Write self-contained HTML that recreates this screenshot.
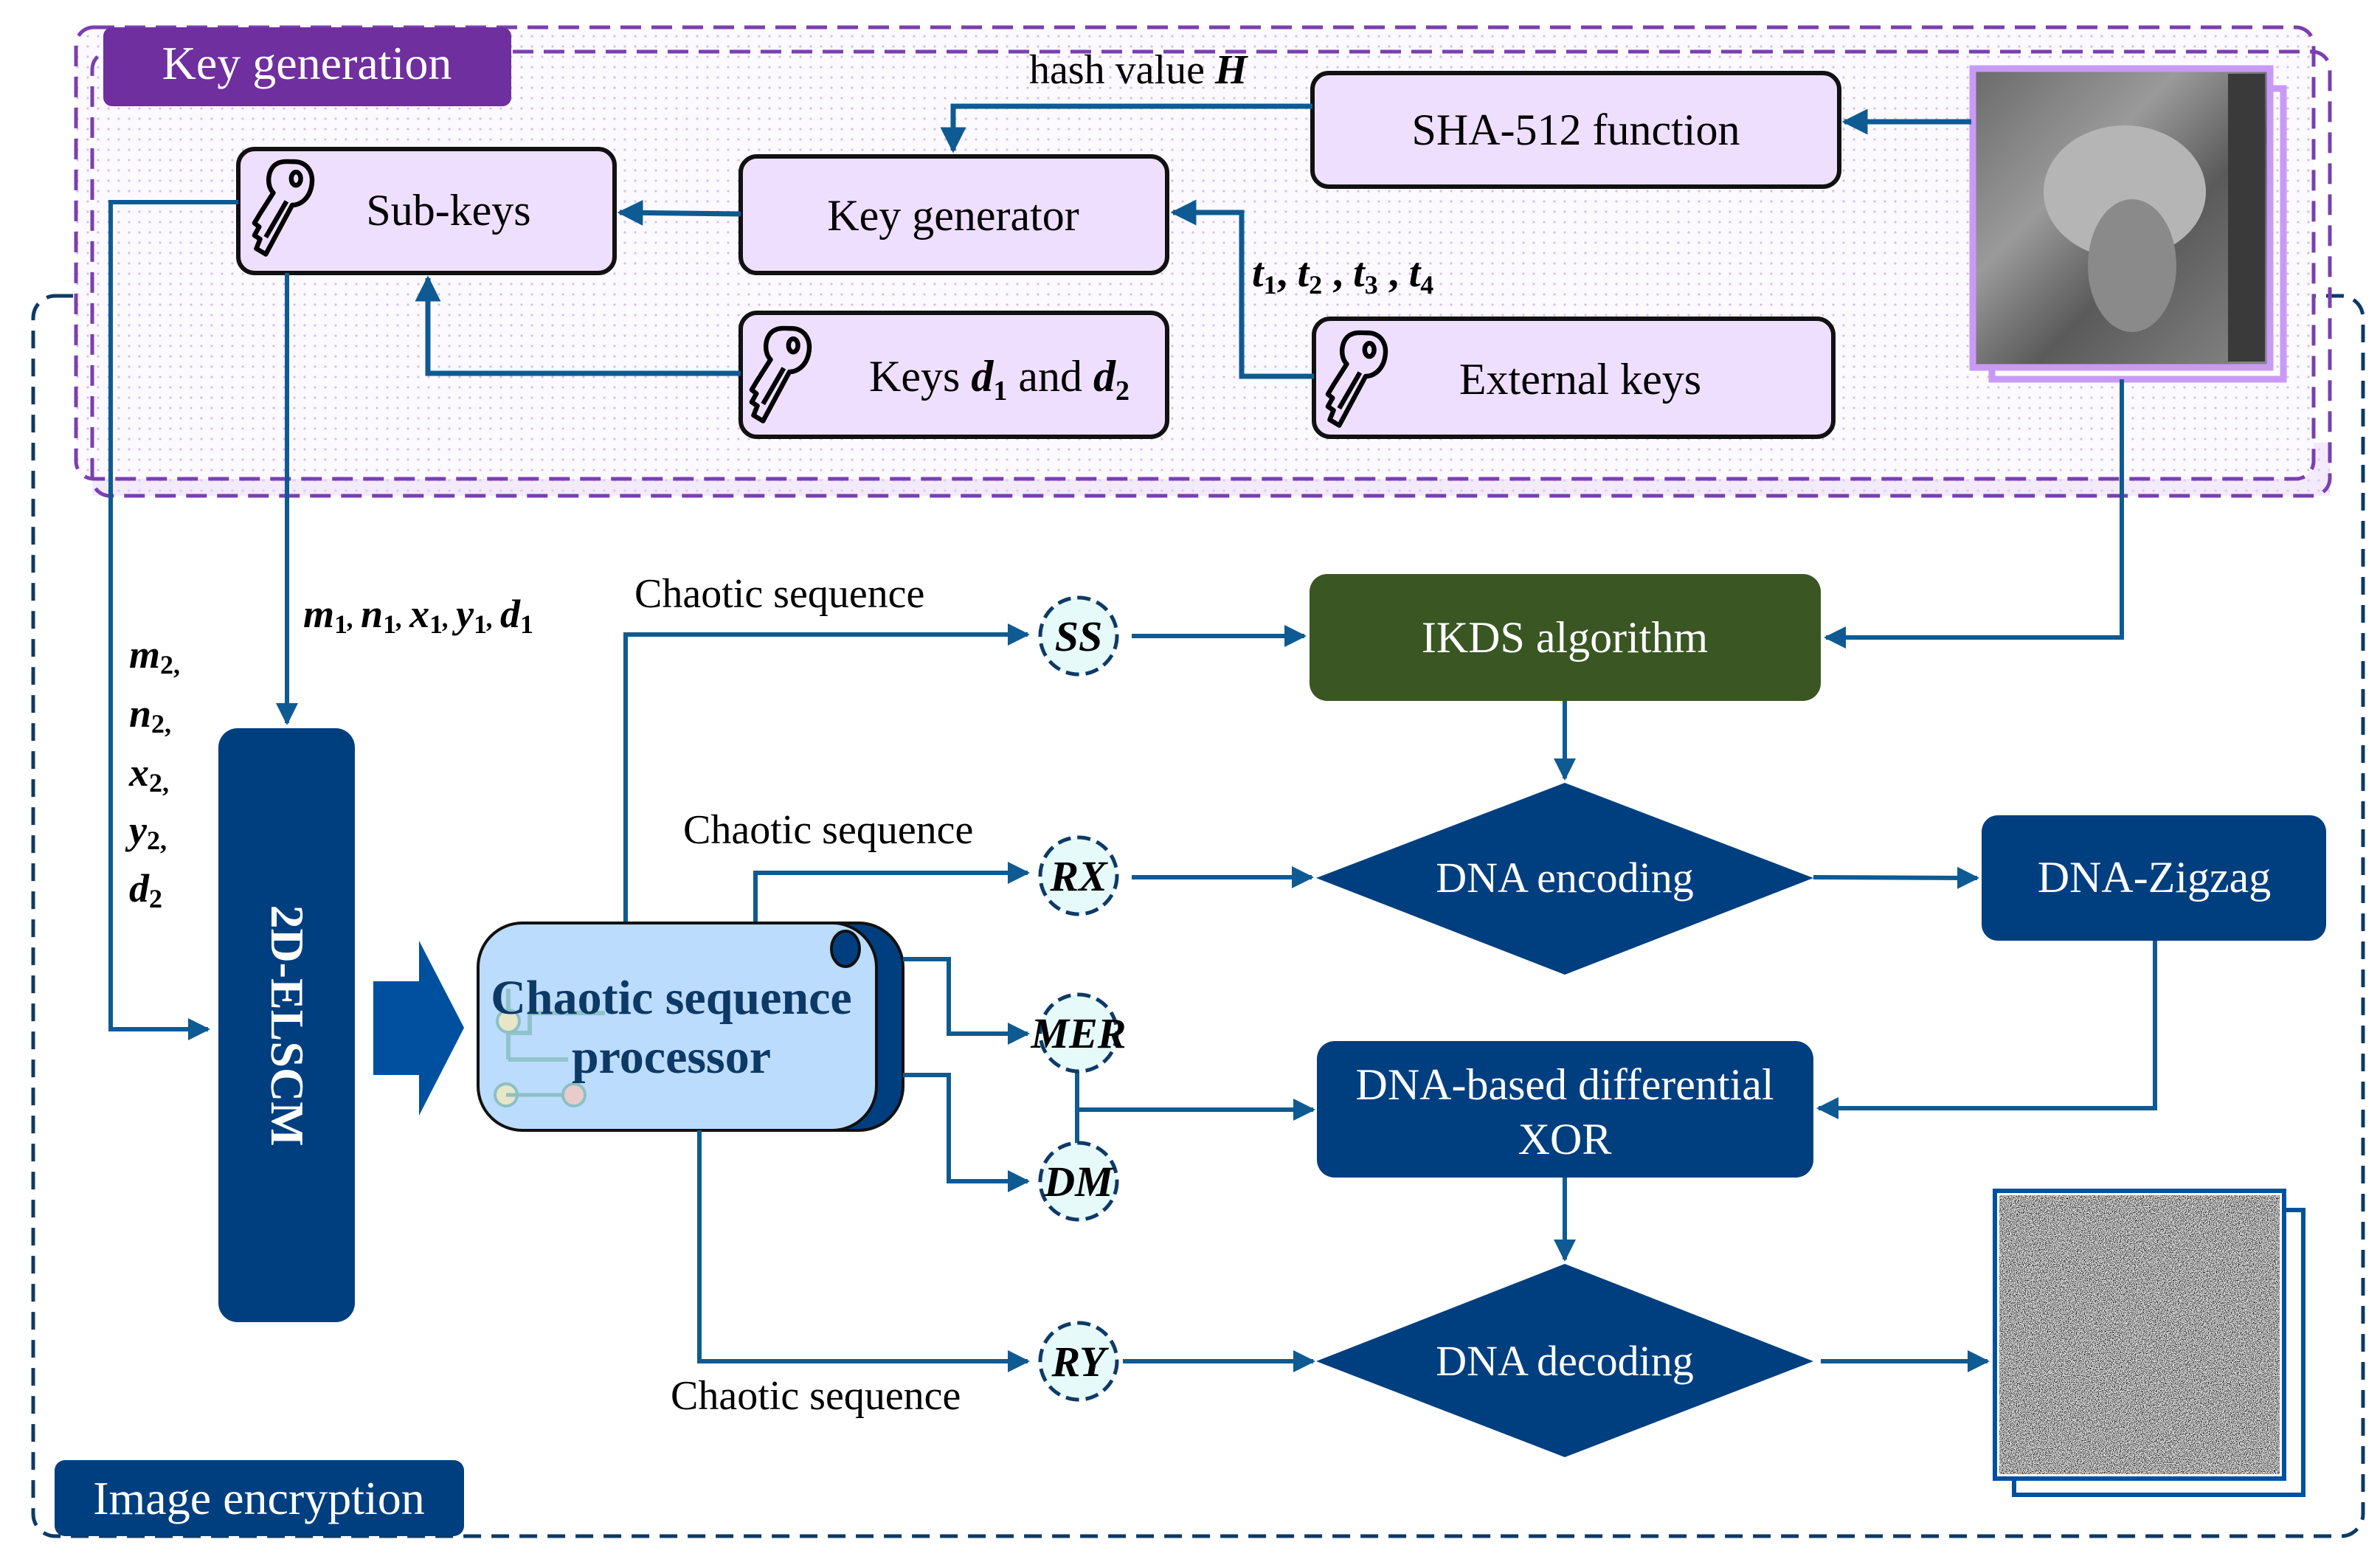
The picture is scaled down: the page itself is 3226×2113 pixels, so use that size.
<!DOCTYPE html>
<html><head><meta charset="utf-8"><style>
html,body{margin:0;padding:0;background:#fff;}
svg{display:block;}
text{font-family:"Liberation Serif",serif;}
</style></head><body>
<svg width="3226" height="2113" viewBox="0 0 3226 2113" xmlns="http://www.w3.org/2000/svg">
<defs>
<pattern id="dots" width="14" height="14" patternUnits="userSpaceOnUse">
<rect width="14" height="14" fill="#fdfaff"/><circle cx="7" cy="7" r="1.6" fill="#d6c0ea"/></pattern>
<pattern id="dots2" width="14" height="14" patternUnits="userSpaceOnUse">
<rect width="14" height="14" fill="#f3eafb"/><circle cx="7" cy="7" r="1.8" fill="#e0cfee"/></pattern>
<marker id="ah" viewBox="0 0 10 10" refX="9" refY="5" markerWidth="5" markerHeight="5" orient="auto" markerUnits="strokeWidth"><path d="M0,0 L10,5 L0,10 z" fill="#0e5a92"/></marker>
<filter id="noise" filterUnits="objectBoundingBox" x="0" y="0" width="1" height="1"><feTurbulence type="fractalNoise" baseFrequency="0.9" numOctaves="2" seed="3"/><feColorMatrix type="matrix" values="3.2 0 0 0 -1.15  3.2 0 0 0 -1.15  3.2 0 0 0 -1.15  0 0 0 0 1"/></filter>
<linearGradient id="lena" x1="0" y1="0" x2="1" y2="1"><stop offset="0" stop-color="#6a6a6a"/><stop offset="0.35" stop-color="#9a9a9a"/><stop offset="0.6" stop-color="#5a5a5a"/><stop offset="1" stop-color="#888"/></linearGradient>
<g id="key" fill="none" stroke="#000" stroke-width="5" stroke-linejoin="round" transform="scale(1.28)">
<path d="M38,4 c14,0 22,12 18,28 c-3,12 -12,18 -20,18 l-28,52 l-10,-6 l4,-10 l-6,-4 l5,-9 l-5,-4 l6,-10 l14,-22 c-8,-8 -6,-26 4,-31 c6,-3 12,-2 18,-2z"/>
<ellipse cx="40" cy="22" rx="5" ry="7"/>
<path d="M8,84 L30,46"/>
</g>
</defs>

<!-- Image encryption frame -->
<rect x="45" y="401" width="3158" height="1681" rx="30" fill="none" stroke="#0d3a66" stroke-width="5" stroke-dasharray="24,14"/>

<!-- Key generation frame -->
<rect x="125" y="600" width="3033" height="72" fill="url(#dots2)"/>
<rect x="103" y="37" width="3033" height="612" rx="24" fill="url(#dots)" stroke="#7a3fb0" stroke-width="5" stroke-dasharray="28,14"/>
<rect x="125" y="70" width="3033" height="602" rx="24" fill="none" stroke="#7a3fb0" stroke-width="5" stroke-dasharray="28,14"/>
<rect x="140" y="37" width="553" height="107" rx="12" fill="#6f2f9f"/>
<text x="416" y="107" font-size="64" fill="#fff" text-anchor="middle">Key generation</text>

<!-- Lena -->
<rect x="2700" y="120" width="395" height="394" fill="none" stroke="#c89af5" stroke-width="9"/>
<rect x="2674" y="93" width="403" height="405" fill="url(#lena)" stroke="#c89af5" stroke-width="9"/>
<ellipse cx="2880" cy="260" rx="110" ry="90" fill="#b5b5b5"/>
<ellipse cx="2890" cy="360" rx="60" ry="90" fill="#8a8a8a"/>
<rect x="3020" y="100" width="50" height="390" fill="#3a3a3a"/>

<!-- Key gen nodes -->
<g stroke="#111" stroke-width="6" fill="#efdfff">
<rect x="1779" y="99" width="714" height="154" rx="22"/>
<rect x="323" y="202" width="510" height="168" rx="22"/>
<rect x="1004" y="212" width="578" height="158" rx="22"/>
<rect x="1004" y="424" width="578" height="168" rx="22"/>
<rect x="1781" y="432" width="704" height="160" rx="22"/>
</g>
<text x="2136" y="196" font-size="60" text-anchor="middle">SHA-512 function</text>
<text x="608" y="305" font-size="60" text-anchor="middle">Sub-keys</text>
<text x="1292" y="312" font-size="60" text-anchor="middle">Key generator</text>
<text x="1178" y="530" font-size="60">Keys <tspan font-weight="bold" font-style="italic">d</tspan><tspan font-size="38" dy="12" font-weight="bold">1</tspan><tspan dy="-12"> and </tspan><tspan font-weight="bold" font-style="italic">d</tspan><tspan font-size="38" dy="12" font-weight="bold">2</tspan></text>
<text x="2142" y="534" font-size="60" text-anchor="middle">External keys</text>
<use href="#key" x="350" y="214"/>
<use href="#key" x="1024" y="440"/>
<use href="#key" x="1805" y="446"/>

<!-- Key gen connectors -->
<g fill="none" stroke="#0e5a92" stroke-width="7">
<path d="M2672,165 L2500,165" marker-end="url(#ah)"/>
<path d="M1779,144 L1292,144 L1292,204" marker-end="url(#ah)"/>
<path d="M1781,510 L1683,510 L1683,288 L1590,288" marker-end="url(#ah)"/>
<path d="M1004,290 L840,288" marker-end="url(#ah)"/>
<path d="M1004,506 L580,506 L580,377" marker-end="url(#ah)"/>
</g>
<g fill="none" stroke="#0e5a92" stroke-width="6">
<path d="M323,274 L150,274 L150,1395 L282,1395" marker-end="url(#ah)"/>
<path d="M389,370 L389,980" marker-end="url(#ah)"/>
<path d="M2876,514 L2876,864 L2475,864" marker-end="url(#ah)"/>
</g>
<text x="1395" y="113" font-size="56">hash value <tspan font-weight="bold" font-style="italic">H</tspan></text>
<text x="1697" y="388" font-size="56" font-weight="bold" font-style="italic">t<tspan font-size="36" dy="10" font-style="normal">1</tspan><tspan dy="-10" font-style="normal">, </tspan>t<tspan font-size="36" dy="10" font-style="normal">2</tspan><tspan dy="-10" font-style="normal"> , </tspan>t<tspan font-size="36" dy="10" font-style="normal">3</tspan><tspan dy="-10" font-style="normal"> , </tspan>t<tspan font-size="36" dy="10" font-style="normal">4</tspan></text>

<!-- labels -->
<text x="411" y="850" font-size="54" font-weight="bold" font-style="italic">m<tspan font-size="36" dy="8" font-style="normal">1</tspan><tspan dy="-8" font-size="36">, </tspan>n<tspan font-size="36" dy="8" font-style="normal">1</tspan><tspan dy="-8" font-size="36">, </tspan>x<tspan font-size="36" dy="8" font-style="normal">1</tspan><tspan dy="-8" font-size="36">, </tspan>y<tspan font-size="36" dy="8" font-style="normal">1</tspan><tspan dy="-8" font-size="36">, </tspan>d<tspan font-size="36" dy="8" font-style="normal">1</tspan></text>
<g font-size="54" font-weight="bold" font-style="italic">
<text x="175" y="905">m<tspan font-size="36" dy="8" font-style="normal">2,</tspan></text>
<text x="175" y="985">n<tspan font-size="36" dy="8" font-style="normal">2,</tspan></text>
<text x="175" y="1065">x<tspan font-size="36" dy="8" font-style="normal">2,</tspan></text>
<text x="175" y="1143">y<tspan font-size="36" dy="8" font-style="normal">2,</tspan></text>
<text x="175" y="1222">d<tspan font-size="36" dy="8" font-style="normal">2</tspan></text>
</g>

<!-- ELSCM -->
<rect x="296" y="987" width="185" height="805" rx="26" fill="#003f7f"/>
<text transform="translate(388,1390) rotate(90)" font-size="64" font-weight="bold" fill="#fff" text-anchor="middle" dy="20">2D-ELSCM</text>
<!-- big arrow -->
<path d="M506,1330 L568,1330 L568,1275 L629,1393 L568,1512 L568,1457 L506,1457 Z" fill="#0050a0"/>

<!-- processor -->
<rect x="700" y="1251" width="524" height="281" rx="60" fill="#003f7f" stroke="#111" stroke-width="4"/>
<rect x="648" y="1251" width="540" height="281" rx="60" fill="#bbdcfc" stroke="#111" stroke-width="4"/>
<ellipse cx="1146" cy="1286" rx="19" ry="24" fill="#003f7f" stroke="#111" stroke-width="4"/>
<g stroke="#8cc0c4" stroke-width="6" fill="none" opacity="0.9">
<path d="M689,1436 L689,1340 M689,1400 L718,1400 L718,1373 L820,1373 M689,1436 L770,1436"/>
</g>
<circle cx="689" cy="1384" r="15" fill="#e8e6c8" stroke="#8cc0c4" stroke-width="4"/>
<circle cx="686" cy="1484" r="15" fill="#e8e6c8" stroke="#8cc0c4" stroke-width="4"/>
<path d="M686,1484 L770,1484" stroke="#8cc0c4" stroke-width="5"/>
<circle cx="778" cy="1484" r="15" fill="#e8cccc" stroke="#8cc0c4" stroke-width="4"/>
<text x="910" y="1374" font-size="66" font-weight="bold" fill="#0d3966" text-anchor="middle">Chaotic sequence</text>
<text x="910" y="1454" font-size="66" font-weight="bold" fill="#0d3966" text-anchor="middle">processor</text>

<!-- processor connectors -->
<g fill="none" stroke="#0e5a92" stroke-width="6">
<path d="M848,1249 L848,860 L1393,860" marker-end="url(#ah)"/>
<path d="M1024,1249 L1024,1183 L1393,1183" marker-end="url(#ah)"/>
<path d="M1224,1300 L1286,1300 L1286,1401 L1393,1401" marker-end="url(#ah)"/>
<path d="M1224,1457 L1286,1457 L1286,1601 L1393,1601" marker-end="url(#ah)"/>
<path d="M948,1532 L948,1845 L1393,1845" marker-end="url(#ah)"/>
<path d="M1534,862 L1768,862" marker-end="url(#ah)"/>
<path d="M1534,1189 L1778,1189" marker-end="url(#ah)"/>
<path d="M1460,1442 L1460,1558 M1460,1504 L1780,1504" marker-end="url(#ah)"/>
<path d="M1522,1845 L1780,1845" marker-end="url(#ah)"/>
<path d="M2121,950 L2121,1055" marker-end="url(#ah)"/>
<path d="M2458,1189 L2680,1190" marker-end="url(#ah)"/>
<path d="M2921,1275 L2921,1502 L2465,1502" marker-end="url(#ah)"/>
<path d="M2121,1596 L2121,1707" marker-end="url(#ah)"/>
<path d="M2468,1845 L2694,1845" marker-end="url(#ah)"/>
</g>
<g font-size="56">
<text x="860" y="823">Chaotic sequence</text>
<text x="926" y="1143">Chaotic sequence</text>
<text x="909" y="1910">Chaotic sequence</text>
</g>

<!-- circles -->
<g fill="#e6fafa" stroke="#0d3a66" stroke-width="5" stroke-dasharray="18,9">
<circle cx="1462" cy="862" r="52"/>
<circle cx="1462" cy="1187" r="52"/>
<circle cx="1462" cy="1400" r="52"/>
<circle cx="1462" cy="1601" r="52"/>
<circle cx="1462" cy="1845" r="52"/>
</g>
<g font-size="58" font-weight="bold" font-style="italic" text-anchor="middle">
<text x="1462" y="882">SS</text>
<text x="1462" y="1207">RX</text>
<text x="1462" y="1420">MER</text>
<text x="1462" y="1621">DM</text>
<text x="1462" y="1865">RY</text>
</g>

<!-- right side nodes -->
<rect x="1775" y="778" width="693" height="172" rx="24" fill="#3a5623"/>
<text x="2121" y="884" font-size="60" fill="#fff" text-anchor="middle">IKDS algorithm</text>
<path d="M2121,1061 L2458,1190 L2121,1321 L1784,1190 Z" fill="#003f7f"/>
<text x="2121" y="1209" font-size="58" fill="#fff" text-anchor="middle">DNA encoding</text>
<rect x="2686" y="1105" width="467" height="170" rx="22" fill="#003f7f"/>
<text x="2920" y="1209" font-size="60" fill="#fff" text-anchor="middle">DNA-Zigzag</text>
<rect x="1785" y="1411" width="673" height="185" rx="24" fill="#003f7f"/>
<text x="2121" y="1490" font-size="60" fill="#fff" text-anchor="middle">DNA-based differential</text>
<text x="2121" y="1564" font-size="60" fill="#fff" text-anchor="middle">XOR</text>
<path d="M2121,1713 L2458,1845 L2121,1975 L1784,1845 Z" fill="#003f7f"/>
<text x="2121" y="1864" font-size="58" fill="#fff" text-anchor="middle">DNA decoding</text>

<!-- noise image -->
<rect x="2730" y="1640" width="392" height="386" fill="none" stroke="#0050a0" stroke-width="6"/>
<rect x="2704" y="1614" width="392" height="390" fill="#fff" stroke="#0050a0" stroke-width="6"/>
<rect x="2710" y="1620" width="380" height="378" fill="#777" filter="url(#noise)"/>

<!-- Image encryption tab -->
<rect x="74" y="1979" width="555" height="103" rx="14" fill="#003f7f"/>
<text x="351" y="2052" font-size="64" fill="#fff" text-anchor="middle">Image encryption</text>
</svg>
</body></html>
